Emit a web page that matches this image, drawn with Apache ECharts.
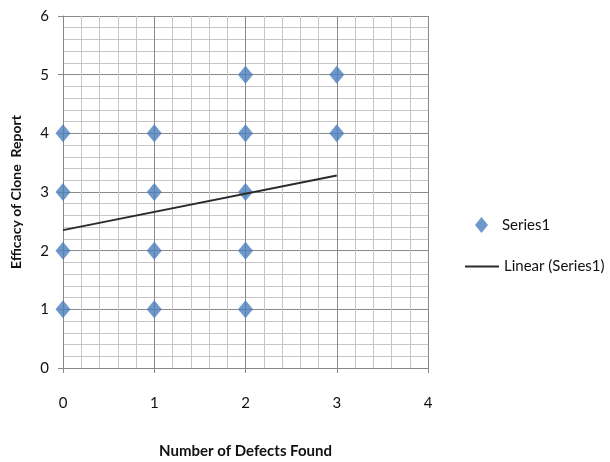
<!DOCTYPE html>
<html><head><meta charset="utf-8">
<script src="https://cdn.jsdelivr.net/npm/echarts@6/dist/echarts.min.js"></script>
<style>html,body{margin:0;padding:0;background:#fff}#c{width:610px;height:462px}</style>
</head><body><div id="c"></div>
<script>
const defectsFound = [0,0,0,0,1,1,1,1,2,2,2,2,2,3,3];
const efficacy =     [1,2,3,4,1,2,3,4,1,2,3,4,5,4,5];
const trendX = [0, 3];
const trendY = [2.35, 3.28];
const xTicks = [0,1,2,3,4];
const yTicks = [0,1,2,3,4,5,6];

const pts = defectsFound.map((x,i)=>[x, efficacy[i]]);
const trend = trendX.map((x,i)=>[x, trendY[i]]);
const font = 'Lato, "Open Sans", sans-serif';
const chart = echarts.init(document.getElementById('c'));
chart.setOption({
  animation:false,
  grid:{left:63,right:182,top:16,bottom:94,outerBoundsMode:'none',containLabel:false},
  legend:[
    {left:470,top:212,itemWidth:13,itemHeight:16,itemGap:12,textStyle:{fontFamily:font,fontSize:15,color:'#111',padding:[0,0,0,9]},data:[{name:'Series1',icon:'diamond'}]},
    {left:460,top:254,itemWidth:34,itemHeight:2,itemGap:3,textStyle:{fontFamily:font,fontSize:15,color:'#111'},
      data:[{name:'Linear (Series1)',icon:'rect'}]}
  ],
  xAxis:{type:'value',min:xTicks[0],max:xTicks[xTicks.length-1],interval:1,
    name:'Number of Defects Found',nameLocation:'middle',nameGap:76,
    nameTextStyle:{fontFamily:font,fontSize:15,fontWeight:'bold',color:'#111'},
    axisLine:{show:true,lineStyle:{color:'#888',width:1}},
    axisTick:{show:true,length:5,lineStyle:{color:'#888'}},
    axisLabel:{margin:28,fontFamily:font,fontSize:15,color:'#111'},
    splitLine:{show:true,lineStyle:{color:'#8a8a8a',width:1}},
    minorTick:{show:false,splitNumber:5},
    minorSplitLine:{show:true,lineStyle:{color:'#c6c6c6',width:1}}
  },
  yAxis:{type:'value',min:yTicks[0],max:yTicks[yTicks.length-1],interval:1,
    name:'Efficacy of Clone  Report',nameLocation:'middle',nameGap:40,
    nameTextStyle:{fontFamily:font,fontSize:14,fontWeight:'bold',color:'#111'},
    axisLine:{show:true,lineStyle:{color:'#888',width:1}},
    axisTick:{show:true,length:5,lineStyle:{color:'#888'}},
    axisLabel:{margin:14,fontFamily:font,fontSize:15,color:'#111'},
    splitLine:{show:true,lineStyle:{color:'#8a8a8a',width:1}},
    minorTick:{show:false,splitNumber:5},
    minorSplitLine:{show:true,lineStyle:{color:'#c6c6c6',width:1}}
  },
  series:[
    {name:'Series1',type:'scatter',data:pts,symbol:'diamond',symbolSize:[15,18],
      itemStyle:{color:'#4a7ebb'},z:3},
    {name:'Linear (Series1)',type:'line',data:trend,symbol:'none',
      lineStyle:{color:'#2b2b2b',width:2},itemStyle:{color:'#2b2b2b'},z:4}
  ]
});
</script></body></html>
